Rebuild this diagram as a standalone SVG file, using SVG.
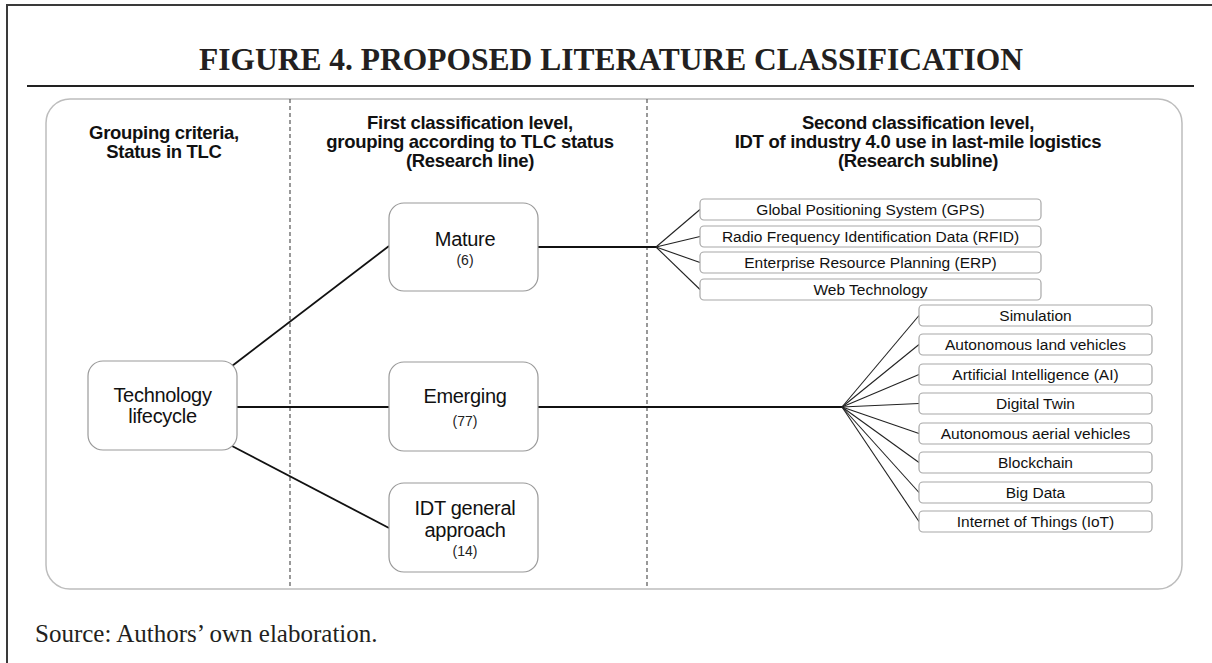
<svg xmlns="http://www.w3.org/2000/svg" width="1212" height="663" viewBox="0 0 1212 663">
  <style>
    .frame { stroke: #3a3a3a; stroke-width: 2; fill: none; }
    .rule { stroke: #222; stroke-width: 2; }
    .panel { fill: #fff; stroke: #bdbdbd; stroke-width: 1.5; }
    .divider { stroke: #555; stroke-width: 1.2; stroke-dasharray: 4 3; }
    .title { font-family: "Liberation Serif", "Times New Roman", serif; font-weight: bold; font-size: 31.5px; fill: #231f20; }
    .source { font-family: "Liberation Serif", "Times New Roman", serif; font-size: 25px; fill: #231f20; }
    .head { font-family: "Liberation Sans", Arial, sans-serif; font-weight: bold; font-size: 18.5px; fill: #111; letter-spacing: -0.3px; }
    .node rect { fill: #fff; stroke: #9a9a9a; stroke-width: 1.2; }
    .node .main { font-family: "Liberation Sans", Arial, sans-serif; font-size: 20px; fill: #111; letter-spacing: -0.3px; }
    .node .count { font-family: "Liberation Sans", Arial, sans-serif; font-size: 14px; fill: #222; }
    .item rect { fill: #fff; stroke: #a8a8a8; stroke-width: 1.2; }
    .item text { font-family: "Liberation Sans", Arial, sans-serif; font-size: 15.5px; fill: #111; }
    .link { stroke: #111; stroke-width: 1.8; fill: none; }
    .fan { stroke: #222; stroke-width: 1.1; fill: none; }
    text { text-anchor: middle; }
  </style>

  <!-- page frame and title -->
  <polyline class="frame" points="7,663 7,5 1212,5"/>
  <text class="title" x="611" y="70">FIGURE 4. PROPOSED LITERATURE CLASSIFICATION</text>
  <line class="rule" x1="27" y1="86" x2="1194" y2="86"/>

  <!-- diagram panel with column dividers -->
  <rect class="panel" x="46" y="99" width="1136" height="490" rx="24" ry="24"/>
  <line class="divider" x1="290" y1="99" x2="290" y2="589"/>
  <line class="divider" x1="647" y1="99" x2="647" y2="589"/>

  <!-- column headings -->
  <g id="headings">
    <text class="head" x="164" y="139">Grouping criteria,</text>
    <text class="head" x="164" y="158">Status in TLC</text>
    <text class="head" x="470" y="129">First classification level,</text>
    <text class="head" x="470" y="148">grouping according to TLC status</text>
    <text class="head" x="470" y="167">(Research line)</text>
    <text class="head" x="918" y="129">Second classification level,</text>
    <text class="head" x="918" y="148">IDT of industry 4.0 use in last-mile logistics</text>
    <text class="head" x="918" y="167">(Research subline)</text>
  </g>

  <!-- connectors -->
  <g id="connectors">
    <line class="link" x1="232" y1="366" x2="389" y2="246"/>
    <line class="link" x1="237" y1="407" x2="389" y2="407"/>
    <line class="link" x1="232" y1="446" x2="389" y2="528"/>
    <line class="link" x1="538" y1="247" x2="656" y2="247"/>
    <line class="link" x1="538" y1="407" x2="842" y2="407"/>
    <!-- mature fan -->
    <line class="fan" x1="656" y1="247" x2="700" y2="209.5"/>
    <line class="fan" x1="656" y1="247" x2="700" y2="236.5"/>
    <line class="fan" x1="656" y1="247" x2="700" y2="262.5"/>
    <line class="fan" x1="656" y1="247" x2="700" y2="289.5"/>
    <!-- emerging fan -->
    <line class="fan" x1="842" y1="407" x2="919" y2="315.5"/>
    <line class="fan" x1="842" y1="407" x2="919" y2="344.5"/>
    <line class="fan" x1="842" y1="407" x2="919" y2="374.5"/>
    <line class="fan" x1="842" y1="407" x2="919" y2="403.5"/>
    <line class="fan" x1="842" y1="407" x2="919" y2="433.5"/>
    <line class="fan" x1="842" y1="407" x2="919" y2="462.5"/>
    <line class="fan" x1="842" y1="407" x2="919" y2="492.5"/>
    <line class="fan" x1="842" y1="407" x2="919" y2="521.5"/>
  </g>

  <!-- first and second level nodes -->
  <g id="technology-lifecycle" class="node">
    <rect x="88" y="361" width="149" height="89" rx="15" ry="15"/>
    <text class="main" x="162.5" y="402">Technology</text>
    <text class="main" x="162.5" y="423">lifecycle</text>
  </g>
  <g id="mature" class="node">
    <rect x="389" y="203" width="149" height="88" rx="15" ry="15"/>
    <text class="main" x="465" y="246">Mature</text>
    <text class="count" x="465" y="265">(6)</text>
  </g>
  <g id="emerging" class="node">
    <rect x="389" y="362" width="149" height="89" rx="15" ry="15"/>
    <text class="main" x="465" y="403">Emerging</text>
    <text class="count" x="465" y="426">(77)</text>
  </g>
  <g id="idt-general" class="node">
    <rect x="389" y="483" width="149" height="89" rx="15" ry="15"/>
    <text class="main" x="465" y="515">IDT general</text>
    <text class="main" x="465" y="537">approach</text>
    <text class="count" x="465" y="556">(14)</text>
  </g>

  <!-- technologies under Mature -->
  <g id="gps" class="item">
    <rect x="700" y="199" width="341" height="21" rx="4"/>
    <text x="870.5" y="215">Global Positioning System (GPS)</text>
  </g>
  <g id="rfid" class="item">
    <rect x="700" y="226" width="341" height="21" rx="4"/>
    <text x="870.5" y="242">Radio Frequency Identification Data (RFID)</text>
  </g>
  <g id="erp" class="item">
    <rect x="700" y="252" width="341" height="21" rx="4"/>
    <text x="870.5" y="268">Enterprise Resource Planning (ERP)</text>
  </g>
  <g id="web" class="item">
    <rect x="700" y="279" width="341" height="21" rx="4"/>
    <text x="870.5" y="295">Web Technology</text>
  </g>

  <!-- technologies under Emerging -->
  <g id="simulation" class="item">
    <rect x="919" y="305" width="233" height="21" rx="4"/>
    <text x="1035.5" y="321">Simulation</text>
  </g>
  <g id="land-vehicles" class="item">
    <rect x="919" y="334" width="233" height="21" rx="4"/>
    <text x="1035.5" y="350">Autonomous land vehicles</text>
  </g>
  <g id="ai" class="item">
    <rect x="919" y="364" width="233" height="21" rx="4"/>
    <text x="1035.5" y="380">Artificial Intelligence (AI)</text>
  </g>
  <g id="digital-twin" class="item">
    <rect x="919" y="393" width="233" height="21" rx="4"/>
    <text x="1035.5" y="409">Digital Twin</text>
  </g>
  <g id="aerial-vehicles" class="item">
    <rect x="919" y="423" width="233" height="21" rx="4"/>
    <text x="1035.5" y="439">Autonomous aerial vehicles</text>
  </g>
  <g id="blockchain" class="item">
    <rect x="919" y="452" width="233" height="21" rx="4"/>
    <text x="1035.5" y="468">Blockchain</text>
  </g>
  <g id="big-data" class="item">
    <rect x="919" y="482" width="233" height="21" rx="4"/>
    <text x="1035.5" y="498">Big Data</text>
  </g>
  <g id="iot" class="item">
    <rect x="919" y="511" width="233" height="21" rx="4"/>
    <text x="1035.5" y="527">Internet of Things (IoT)</text>
  </g>

  <text class="source" x="35" y="642" style="text-anchor: start">Source: Authors’ own elaboration.</text>
</svg>
